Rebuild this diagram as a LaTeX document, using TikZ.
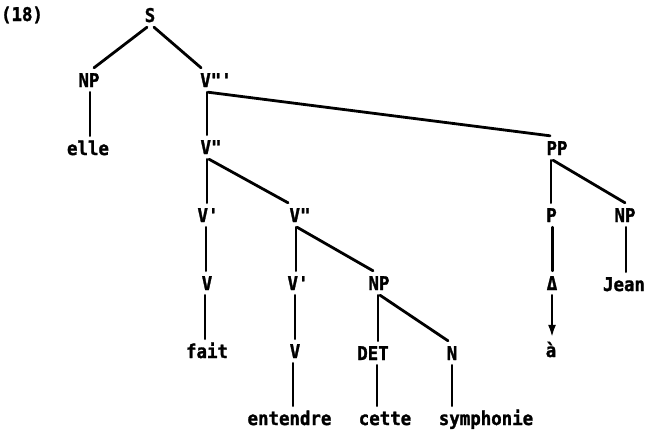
\documentclass[tikz,border=0pt]{standalone}
\usepackage{fontspec}
\setmonofont{DejaVu Sans Mono}[FakeStretch=0.92, BoldFeatures={FakeBold=1.5}]
\usetikzlibrary{arrows.meta}
\tikzset{
  lbl/.style={anchor=base, inner xsep=1bp, inner ysep=5bp, text height=14bp, text depth=0bp,
    font=\ttfamily\bfseries\fontsize{19}{22}\selectfont},
  edge/.style={draw, line width=2.8bp, line cap=round},
  tip/.style={-{Latex[length=13bp,width=8bp]}},
}
\begin{document}
\begin{tikzpicture}[x=1bp,y=-1bp]
\useasboundingbox (0,0) rectangle (648,432);
% row 0
\node[lbl] (ex) at (22,21) {(18)};
\node[lbl] (S) at (150,22) {S};
% row 1
\node[lbl] (NPa) at (89,87) {NP};
\node[lbl] (V3) at (216,87) {V"'};
% row 2
\node[lbl] (elle) at (88,155) {elle};
\node[lbl] (V2a) at (211,154) {V"};
\node[lbl] (PP) at (557,155) {PP};
% row 3
\node[lbl] (V1a) at (208,222) {V'};
\node[lbl] (V2b) at (300,222) {V"};
\node[lbl] (P) at (551.5,222) {P};
\node[lbl] (NPc) at (625,222) {NP};
% row 4
\node[lbl] (Va) at (207,290) {V};
\node[lbl] (V1b) at (298,290) {V'};
\node[lbl] (NPb) at (379,290) {NP};
\node[lbl] (Del) at (552,290) {Δ};
\node[lbl] (Jean) at (624,291) {Jean};
% row 5
\node[lbl] (fait) at (207,358) {fait};
\node[lbl] (Vb) at (295,358) {V};
\node[lbl] (DET) at (373,360) {DET};
\node[lbl] (N) at (452,360) {N};
\node[lbl] (a) at (551,357) {à};
% row 6
\node[lbl] (ent) at (289.5,425) {entendre};
\node[lbl] (cette) at (385,425) {cette};
\node[lbl] (sym) at (486,425) {symphonie};

% connectors
\path[edge] ([xshift=-3]S.south) -- ([xshift=5]NPa.north);
\path[edge] ([xshift=4]S.south) -- ([xshift=-15]V3.north);
\path[edge] ([xshift=1]NPa.south) -- ([xshift=1]NPa.south |- elle.north);
\path[edge] ([xshift=-9]V3.south) -- ([xshift=-9]V3.south |- V2a.north);
\path[edge] ([xshift=-8]V3.south) -- ([xshift=-7]PP.north);
\path[edge] ([xshift=-4]V2a.south) -- ([xshift=-4]V2a.south |- V1a.north);
\path[edge] ([xshift=-2]V2a.south) -- ([xshift=-12]V2b.north);
\path[edge] ([xshift=-2]V1a.south) -- ([xshift=-2]V1a.south |- Va.north);
\path[edge] ([xshift=-2]Va.south) -- ([xshift=-2]Va.south |- fait.north);
\path[edge] ([xshift=-4]V2b.south) -- ([xshift=-4]V2b.south |- V1b.north);
\path[edge] ([xshift=-3]V2b.south) -- ([xshift=-6]NPb.north);
\path[edge] ([xshift=-3]V1b.south) -- ([xshift=-3]V1b.south |- Vb.north);
\path[edge] ([xshift=-2]Vb.south) -- ([xshift=-2]Vb.south |- ent.north);
\path[edge] ([xshift=-1]NPb.south) -- ([xshift=-1]NPb.south |- DET.north);
\path[edge] ([xshift=1]NPb.south) -- ([xshift=-4]N.north);
\path[edge] ([xshift=4]DET.south) -- ([xshift=4]DET.south |- cette.north);
\path[edge] (N.south) -- (N.south |- sym.north);
\path[edge] ([xshift=-6]PP.south) -- ([xshift=-6]PP.south |- P.north);
\path[edge] ([xshift=-4]PP.south) -- (NPc.north);
\path[edge] ([xshift=1]P.south) -- ([xshift=1]P.south |- Del.north);
\path[edge, tip] (Del.south) -- (Del.south |- a.north);
\path[edge] ([xshift=1]NPc.south) -- ([xshift=1]NPc.south |- Jean.north);
\end{tikzpicture}
\end{document}
